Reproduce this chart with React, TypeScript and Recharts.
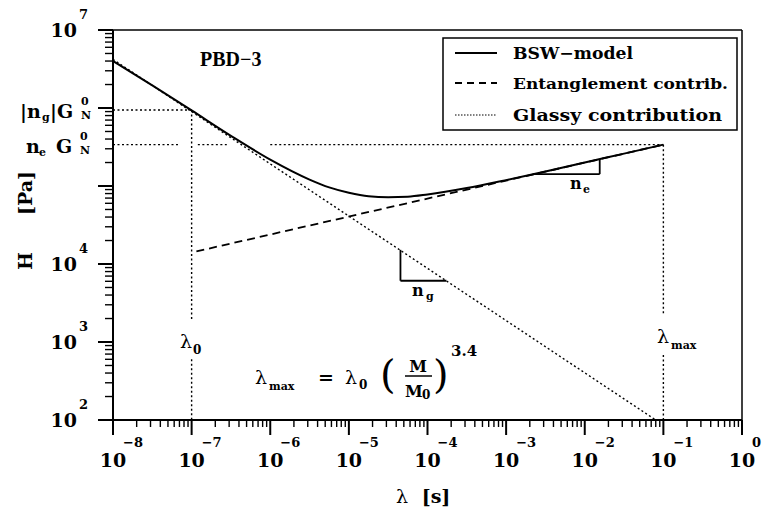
import React from 'react';
import { LineChart, Line, XAxis, YAxis, ReferenceLine } from 'recharts';

// BSW model curve
const bswLambda = [1e-8, 3.16e-8, 1e-7, 3.16e-7, 1e-6, 3.16e-6, 5.62e-6, 1e-5, 1.78e-5, 3.16e-5, 5.62e-5, 1e-4, 3.16e-4, 1e-3, 3.16e-3, 1e-2, 3.16e-2, 0.1];
const bswH = [4.0e6, 1.95e6, 9.3e5, 4.4e5, 2.18e5, 1.21e5, 9.6e4, 8.2e4, 7.4e4, 7.2e4, 7.3e4, 7.8e4, 9.4e4, 1.19e5, 1.53e5, 2.0e5, 2.6e5, 3.39e5];

// entanglement contribution (straight in log-log)
const entLambda = [1.15e-7, 0.1];
const entH = [1.45e4, 3.39e5];

// glassy contribution
const glassLambda = [1e-8, 0.08];
const glassH = [4.2e6, 100];

// guide values
const lambda0 = 1e-7;
const lambdaMax = 0.1;
const ngGN = 9.44e5;
const neGN = 3.39e5;

const xDecades = [-8, -7, -6, -5, -4, -3, -2, -1, 0];
const yDecades = [2, 3, 4, 5, 6, 7];
const yLabeled = [2, 3, 4, 7];
const minorSteps = [2, 3, 4, 5, 6, 7, 8, 9];

const toPoints = (xs: number[], ys: number[]) => xs.map((lam, i) => ({ lam, h: ys[i] }));
const bswData = toPoints(bswLambda, bswH);
const entData = toPoints(entLambda, entH);
const glassData = toPoints(glassLambda, glassH);

const buildTicks = (decades: number[]) => {
  const out: number[] = [];
  decades.forEach((d, i) => {
    out.push(Math.pow(10, d));
    if (i < decades.length - 1) minorSteps.forEach((m) => out.push(m * Math.pow(10, d)));
  });
  return out;
};
const xTicks = buildTicks(xDecades);
const yTicks = buildTicks(yDecades);

const FONT = '"DejaVu Serif", serif';
const DOT = '2 2.5';

const exponentOf = (v: number) => {
  const e = Math.log10(v);
  return Math.abs(e - Math.round(e)) < 1e-6 ? Math.round(e) : null;
};
const expText = (e: number) => (e < 0 ? '\u2212' + Math.abs(e) : String(e));

const XTick = (props: any) => {
  const { x, y, payload } = props;
  const e = exponentOf(payload.value);
  const major = e !== null;
  return (
    <g>
      <line x1={x} x2={x} y1={y} y2={y + (major ? 15 : 7)} stroke="#000" strokeWidth={major ? 2 : 1.4} />
      {major && (
        <g fontFamily={FONT} fontWeight="bold" fill="#000">
          <text x={x} y={y + 47} textAnchor="middle" fontSize={19}>10</text>
          <text x={x + 10} y={y + 27} fontSize={13}>{expText(e as number)}</text>
        </g>
      )}
    </g>
  );
};

const YTick = (props: any) => {
  const { x, y, payload } = props;
  const e = exponentOf(payload.value);
  const major = e !== null;
  return (
    <g>
      <line x1={x} x2={x - (major ? 15 : 8)} y1={y} y2={y} stroke="#000" strokeWidth={major ? 2 : 1.4} />
      {major && yLabeled.includes(e as number) && (
        <g fontFamily={FONT} fontWeight="bold" fill="#000">
          <text x={x - 36} y={y + 7} textAnchor="end" fontSize={19}>10</text>
          <text x={x - 34} y={y - 11} fontSize={13}>{expText(e as number)}</text>
        </g>
      )}
    </g>
  );
};

const guideSegments = [
  [{ x: 1e-8, y: ngGN }, { x: lambda0, y: ngGN }],
  [{ x: lambda0, y: ngGN }, { x: lambda0, y: 1.9e3 }],
  [{ x: lambda0, y: 6.0e2 }, { x: lambda0, y: 100 }],
  [{ x: 1e-8, y: neGN }, { x: 7.1e-8, y: neGN }],
  [{ x: 1.2e-7, y: neGN }, { x: 2.8e-7, y: neGN }],
  [{ x: 1e-6, y: neGN }, { x: lambdaMax, y: neGN }],
  [{ x: lambdaMax, y: neGN }, { x: lambdaMax, y: 2.2e3 }],
  [{ x: lambdaMax, y: 6.8e2 }, { x: lambdaMax, y: 100 }],
];

const triangleSegments = [
  [{ x: 2.19e-3, y: 1.42e5 }, { x: 1.55e-2, y: 1.42e5 }],
  [{ x: 1.55e-2, y: 1.42e5 }, { x: 1.55e-2, y: 2.2e5 }],
  [{ x: 4.53e-5, y: 1.52e4 }, { x: 4.53e-5, y: 6.1e3 }],
  [{ x: 4.53e-5, y: 6.1e3 }, { x: 1.74e-4, y: 6.1e3 }],
];

const Overlay = () => (
  <svg width={763} height={519} style={{ position: 'absolute', left: 0, top: 0, pointerEvents: 'none' }}>
    <g fontFamily={FONT} fontWeight="bold" fill="#000">
      <text x={200} y={66} fontSize={20} fontFamily='"Liberation Serif", serif'>PBD{'\u2212'}3</text>

      {/* left annotations */}
      <text x={20} y={118} fontSize={19}>|n</text>
      <text x={42} y={121} fontSize={11}>g</text>
      <text x={50} y={118} fontSize={19}>|G</text>
      <text x={81} y={105} fontSize={11}>0</text>
      <text x={81} y={119} fontSize={11}>N</text>

      <text x={26} y={153} fontSize={19}>n</text>
      <text x={39} y={156} fontSize={11}>e</text>
      <text x={56} y={153} fontSize={19}>G</text>
      <text x={80} y={140} fontSize={11}>0</text>
      <text x={80} y={154} fontSize={11}>N</text>

      {/* lambda labels */}
      <text x={180} y={348} fontSize={19} fontWeight="normal">λ</text>
      <text x={193} y={354} fontSize={12}>0</text>
      <text x={657} y={343} fontSize={19} fontWeight="normal">λ</text>
      <text x={671} y={349} fontSize={11}>max</text>

      {/* formula */}
      <text x={255} y={384} fontSize={19} fontWeight="normal">λ</text>
      <text x={269} y={390} fontSize={11}>max</text>
      <text x={318} y={384} fontSize={19}>=</text>
      <text x={345} y={384} fontSize={19} fontWeight="normal">λ</text>
      <text x={359} y={389} fontSize={12}>0</text>
      <text x={380} y={388} fontSize={40} fontWeight="normal">(</text>
      <text x={418} y={372} fontSize={16} textAnchor="middle">M</text>
      <line x1={405} x2={432} y1={376} y2={376} stroke="#000" strokeWidth={1.5} />
      <text x={405} y={397} fontSize={16}>M</text>
      <text x={422} y={399} fontSize={12}>0</text>
      <text x={433} y={388} fontSize={40} fontWeight="normal">)</text>
      <text x={451} y={356} fontSize={15}>3.4</text>

      {/* slope labels */}
      <text x={570} y={189} fontSize={16}>n</text>
      <text x={583} y={193} fontSize={11}>e</text>
      <text x={412} y={296} fontSize={16}>n</text>
      <text x={426} y={300} fontSize={11}>g</text>

      {/* axis titles */}
      <text x={32} y={261} fontSize={19} textAnchor="middle" transform="rotate(-90 32 261)">H</text>
      <text x={32} y={193} fontSize={19} textAnchor="middle" transform="rotate(-90 32 193)">[Pa]</text>
      <text x={402} y={503} fontSize={19} textAnchor="middle" fontWeight="normal">λ</text>
      <text x={436} y={503} fontSize={19} textAnchor="middle">[s]</text>
    </g>

    {/* legend */}
    <rect x={443} y={38} width={294} height={92} fill="#fff" stroke="#000" strokeWidth={1.5} />
    <line x1={455} x2={497} y1={53} y2={53} stroke="#000" strokeWidth={2} />
    <line x1={455} x2={497} y1={83} y2={83} stroke="#000" strokeWidth={2} strokeDasharray="7 5" />
    <line x1={455} x2={497} y1={115} y2={115} stroke="#000" strokeWidth={1.2} strokeDasharray="1.5 1.5" />
    <g fontFamily={FONT} fontWeight="bold" fill="#000">
      <text x={513} y={59} fontSize={17} textLength={120} lengthAdjust="spacingAndGlyphs">BSW{'\u2212'}model</text>
      <text x={513} y={89} fontSize={15} textLength={215} lengthAdjust="spacingAndGlyphs">Entanglement contrib.</text>
      <text x={513} y={121} fontSize={17} textLength={209} lengthAdjust="spacingAndGlyphs">Glassy contribution</text>
    </g>
  </svg>
);

export default function App() {
  return (
    <div style={{ position: 'absolute', left: 0, top: 0, width: 763, height: 519, background: '#fff' }}>
      <LineChart width={763} height={519} margin={{ top: 30, right: 21, bottom: 0, left: 0 }}>
        <XAxis
          dataKey="lam"
          type="number"
          scale="log"
          domain={[1e-8, 1]}
          allowDataOverflow
          ticks={xTicks}
          interval={0}
          height={99}
          tickSize={0}
          tickMargin={0}
          tickLine={false}
          axisLine={{ stroke: '#000', strokeWidth: 2 }}
          tick={<XTick />}
        />
        <YAxis
          type="number"
          scale="log"
          domain={[100, 1e7]}
          allowDataOverflow
          ticks={yTicks}
          interval={0}
          width={113}
          tickSize={0}
          tickMargin={0}
          tickLine={false}
          axisLine={{ stroke: '#000', strokeWidth: 2 }}
          tick={<YTick />}
        />
        <ReferenceLine y={1e7} stroke="#000" strokeWidth={1.5} />
        <ReferenceLine x={1} stroke="#000" strokeWidth={1.5} />
        {guideSegments.map((seg, i) => (
          <ReferenceLine key={'g' + i} segment={seg} stroke="#000" strokeWidth={1.4} strokeDasharray={DOT} />
        ))}
        {triangleSegments.map((seg, i) => (
          <ReferenceLine key={'t' + i} segment={seg} stroke="#000" strokeWidth={1.8} />
        ))}
        <Line data={glassData} dataKey="h" type="linear" stroke="#000" strokeWidth={1.4} strokeDasharray={DOT} dot={false} isAnimationActive={false} />
        <Line data={entData} dataKey="h" type="linear" stroke="#000" strokeWidth={1.8} strokeDasharray="8 5" dot={false} isAnimationActive={false} />
        <Line data={bswData} dataKey="h" type="monotone" stroke="#000" strokeWidth={2} dot={false} isAnimationActive={false} />
      </LineChart>
      <Overlay />
    </div>
  );
}
